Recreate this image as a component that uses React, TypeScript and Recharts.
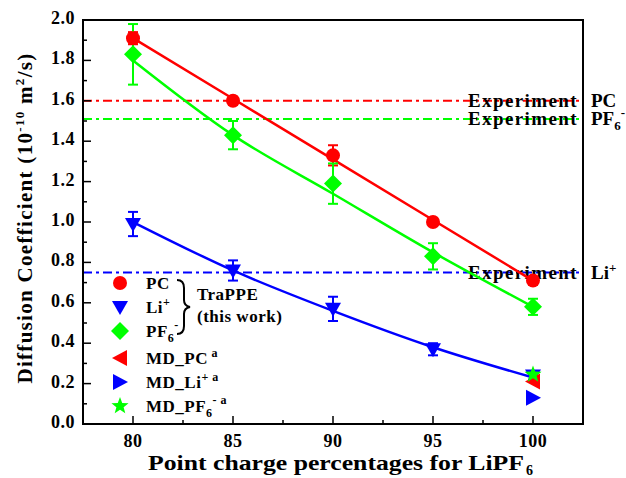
import React from 'react';
import {
  ComposedChart,
  Line,
  XAxis,
  YAxis,
  ErrorBar,
  ReferenceLine,
  ReferenceArea,
} from 'recharts';

// point charge percentages
const charges = [80, 85, 90, 95, 100];

// TraPPE (this work)
const pcValues = [1.91, 1.6, 1.33, 1.0, 0.71];
const pcErrors = [0.03, 0.02, 0.05, 0.02, 0.02];
const pcFit = [1.91, 1.61, 1.31, 1.01, 0.71];

const liValues = [0.99, 0.76, 0.57, 0.37, 0.24];
const liErrors = [0.06, 0.05, 0.06, 0.03, 0.02];
const liFit = [1.0, 0.76, 0.56, 0.38, 0.23];

const pfValues = [1.83, 1.43, 1.19, 0.83, 0.58];
const pfErrors = [0.15, 0.07, 0.1, 0.065, 0.04];
const pfFit = [1.8, 1.43, 1.14, 0.85, 0.58];

// MD reference values (at 100 %)
const mdPc = 0.21;
const mdLi = 0.13;
const mdPf = 0.245;

// experiment values
const expPc = 1.6;
const expPf = 1.51;
const expLi = 0.75;

const xTicks = [80, 82.5, 85, 87.5, 90, 92.5, 95, 97.5, 100];
const yTicks = [0, 0.1, 0.2, 0.3, 0.4, 0.5, 0.6, 0.7, 0.8, 0.9, 1.0, 1.1, 1.2, 1.3, 1.4, 1.5, 1.6, 1.7, 1.8, 1.9, 2.0];

const RED = '#ff0000';
const BLUE = '#0000ff';
const GREEN = '#00ff00';
const FONT = '"Liberation Serif", "Times New Roman", serif';

const PLOT_LEFT = 83;
const PLOT_BOTTOM = 424;

const data = charges.map((c, i) => ({
  x: c,
  pc: pcValues[i],
  pcErr: pcErrors[i],
  pcFit: pcFit[i],
  li: liValues[i],
  liErr: liErrors[i],
  liFit: liFit[i],
  pf: pfValues[i],
  pfErr: pfErrors[i],
  pfFit: pfFit[i],
  mdPc: c === 100 ? mdPc : null,
  mdLi: c === 100 ? mdLi : null,
  mdPf: c === 100 ? mdPf : null,
}));

// marker shapes
const markerPath = (kind: string, cx: number, cy: number) => {
  switch (kind) {
    case 'down':
      return `M${cx - 8},${cy - 6} L${cx + 8},${cy - 6} L${cx},${cy + 8} Z`;
    case 'diamond':
      return `M${cx},${cy - 9} L${cx + 9},${cy} L${cx},${cy + 9} L${cx - 9},${cy} Z`;
    case 'left':
      return `M${cx + 7},${cy - 8} L${cx + 7},${cy + 8} L${cx - 8},${cy} Z`;
    case 'right':
      return `M${cx - 7},${cy - 8} L${cx - 7},${cy + 8} L${cx + 8},${cy} Z`;
    case 'star': {
      let d = '';
      for (let k = 0; k < 10; k++) {
        const r = k % 2 === 0 ? 9 : 3.8;
        const a = -Math.PI / 2 + (k * Math.PI) / 5;
        d += `${k === 0 ? 'M' : 'L'}${cx + r * Math.cos(a)},${cy + r * Math.sin(a)} `;
      }
      return d + 'Z';
    }
    default:
      return '';
  }
};

const Marker = ({ kind, cx, cy, color }: any) =>
  kind === 'circle' ? (
    <circle cx={cx} cy={cy} r={7} fill={color} />
  ) : (
    <path d={markerPath(kind, cx, cy)} fill={color} />
  );

const makeDot = (kind: string, color: string) => (props: any) => {
  const { cx, cy, value, index } = props;
  if (value == null || cy == null || isNaN(cy)) return <g key={`e-${kind}-${index}`} />;
  return <Marker key={`${kind}-${index}`} kind={kind} cx={cx} cy={cy} color={color} />;
};

const XTick = ({ x, payload }: any) => {
  const v = payload.value;
  const major = v % 5 === 0;
  return (
    <g>
      <line x1={x} x2={x} y1={PLOT_BOTTOM} y2={PLOT_BOTTOM - (major ? 8 : 4)} stroke="#000" strokeWidth={1.5} />
      {major && (
        <text x={x} y={447} textAnchor="middle" fontFamily={FONT} fontWeight="bold" fontSize={18} letterSpacing={0.5} fill="#000">
          {v}
        </text>
      )}
    </g>
  );
};

const YTick = ({ y, payload }: any) => {
  const v = payload.value;
  const major = Math.round(v * 10) % 2 === 0;
  return (
    <g>
      <line x1={PLOT_LEFT} x2={PLOT_LEFT + (major ? 8 : 4)} y1={y} y2={y} stroke="#000" strokeWidth={1.5} />
      {major && (
        <text x={75} y={y + 4} textAnchor="end" fontFamily={FONT} fontWeight="bold" fontSize={18} letterSpacing={0.5} fill="#000">
          {v.toFixed(1)}
        </text>
      )}
    </g>
  );
};

const ExpLabel = ({ viewBox, name, sub, sup }: any) => {
  const right = viewBox.x + viewBox.width;
  const y = viewBox.y + 6;
  return (
    <g fontFamily={FONT} fontWeight="bold" fontSize={19} fill="#000">
      <text x={right - 5} y={y} textAnchor="end" letterSpacing={1.4}>Experiment</text>
      <text x={right + 8} y={y}>
        {name}
        {sub && <tspan dy={5} fontSize={13}>{sub}</tspan>}
        {sup && <tspan dy={sub ? -13 : -7} fontSize={13}>{sup}</tspan>}
      </text>
    </g>
  );
};

const LegendOverlay = () => {
  const rows = [
    { kind: 'circle', color: RED, y: 283, text: 'PC' },
    { kind: 'down', color: BLUE, y: 307, text: 'Li', sup: '+' },
    { kind: 'diamond', color: GREEN, y: 331, text: 'PF', sub: '6', sup: '-' },
    { kind: 'left', color: RED, y: 358, text: 'MD_PC', sup: ' a' },
    { kind: 'right', color: BLUE, y: 382, text: 'MD_Li', sup: '+ a' },
    { kind: 'star', color: GREEN, y: 406, text: 'MD_PF', sub: '6', sup: '- a' },
  ];
  return (
    <svg width={626} height={478} style={{ position: 'absolute', left: 0, top: 0, pointerEvents: 'none' }}>
      <g fontFamily={FONT} fontWeight="bold" fontSize={17} fill="#000">
        {rows.map((r) => (
          <g key={r.text}>
            <Marker kind={r.kind} cx={120} cy={r.y} color={r.color} />
            <text x={146} y={r.y + 6} letterSpacing={0.5}>
              {r.text}
              {r.sub && <tspan dy={5} fontSize={12}>{r.sub}</tspan>}
              {r.sup && (
                <tspan dy={r.sub ? -13 : -7} fontSize={12}>
                  {r.sup}
                </tspan>
              )}
            </text>
          </g>
        ))}
        <path
          d="M177,280 Q184,280 184,288 L184,300 Q184,306 190,307 Q184,308 184,314 L184,326 Q184,334 177,334"
          fill="none"
          stroke="#000"
          strokeWidth={2}
        />
        <text x={197} y={300} letterSpacing={0.5}>TraPPE</text>
        <text x={197} y={322} letterSpacing={0.5}>(this work)</text>
      </g>
    </svg>
  );
};

export default function App() {
  return (
    <div style={{ position: 'absolute', left: 0, top: 0, width: 626, height: 478, background: '#fff' }}>
      <ComposedChart width={626} height={478} data={data} margin={{ top: 20, right: 43, bottom: 0, left: 0 }}>
        <XAxis
          dataKey="x"
          type="number"
          domain={[77.5, 102.5]}
          ticks={xTicks}
          interval={0}
          height={54}
          tickLine={false}
          axisLine={{ stroke: '#000', strokeWidth: 2 }}
          tick={<XTick />}
        />
        <YAxis
          type="number"
          domain={[0, 2]}
          ticks={yTicks}
          interval={0}
          width={83}
          tickLine={false}
          axisLine={{ stroke: '#000', strokeWidth: 2 }}
          tick={<YTick />}
        />
        <ReferenceArea x1={77.5} x2={102.5} y1={0} y2={2} fill="none" stroke="#000" strokeWidth={2} />
        <ReferenceLine
          y={expPc}
          stroke={RED}
          strokeWidth={2}
          strokeDasharray="9 4 3 4"
          label={<ExpLabel name="PC" />}
        />
        <ReferenceLine
          y={expPf}
          stroke={GREEN}
          strokeWidth={2}
          strokeDasharray="9 4 3 4"
          label={<ExpLabel name="PF" sub="6" sup="-" />}
        />
        <ReferenceLine
          y={expLi}
          stroke={BLUE}
          strokeWidth={2}
          strokeDasharray="9 4 3 4"
          label={<ExpLabel name="Li" sup="+" />}
        />
        <Line dataKey="pcFit" type="linear" stroke={RED} strokeWidth={2.5} dot={false} isAnimationActive={false} />
        <Line dataKey="pfFit" type="monotone" stroke={GREEN} strokeWidth={2.5} dot={false} isAnimationActive={false} />
        <Line dataKey="liFit" type="monotone" stroke={BLUE} strokeWidth={2.5} dot={false} isAnimationActive={false} />
        <Line dataKey="pc" stroke="none" dot={makeDot('circle', RED)} isAnimationActive={false}>
          <ErrorBar dataKey="pcErr" width={5} stroke={RED} strokeWidth={2} direction="y" />
        </Line>
        <Line dataKey="li" stroke="none" dot={makeDot('down', BLUE)} isAnimationActive={false}>
          <ErrorBar dataKey="liErr" width={5} stroke={BLUE} strokeWidth={2} direction="y" />
        </Line>
        <Line dataKey="pf" stroke="none" dot={makeDot('diamond', GREEN)} isAnimationActive={false}>
          <ErrorBar dataKey="pfErr" width={5} stroke={GREEN} strokeWidth={2} direction="y" />
        </Line>
        <Line dataKey="mdPc" stroke="none" dot={makeDot('left', RED)} isAnimationActive={false} />
        <Line dataKey="mdLi" stroke="none" dot={makeDot('right', BLUE)} isAnimationActive={false} />
        <Line dataKey="mdPf" stroke="none" dot={makeDot('star', GREEN)} isAnimationActive={false} />
      </ComposedChart>
      <svg width={626} height={478} style={{ position: 'absolute', left: 0, top: 0, pointerEvents: 'none' }}>
        <text
          transform="translate(32,218) rotate(-90)"
          textAnchor="middle"
          fontFamily={FONT}
          fontWeight="bold"
          fontSize={21}
          letterSpacing={1.3}
          fill="#000"
        >
          Diffusion Coefficient (10
          <tspan dy={-8} fontSize={13}>-10</tspan>
          <tspan dy={8}> m</tspan>
          <tspan dy={-8} fontSize={13}>2</tspan>
          <tspan dy={8}>/s)</tspan>
        </text>
        <text
          x={148}
          y={470}
          textLength={376}
          lengthAdjust="spacingAndGlyphs"
          fontFamily={FONT}
          fontWeight="bold"
          fontSize={21}
          fill="#000"
        >
          Point charge percentages for LiPF
        </text>
        <text x={526} y={475} fontFamily={FONT} fontWeight="bold" fontSize={14} fill="#000">
          6
        </text>
      </svg>
      <LegendOverlay />
    </div>
  );
}
